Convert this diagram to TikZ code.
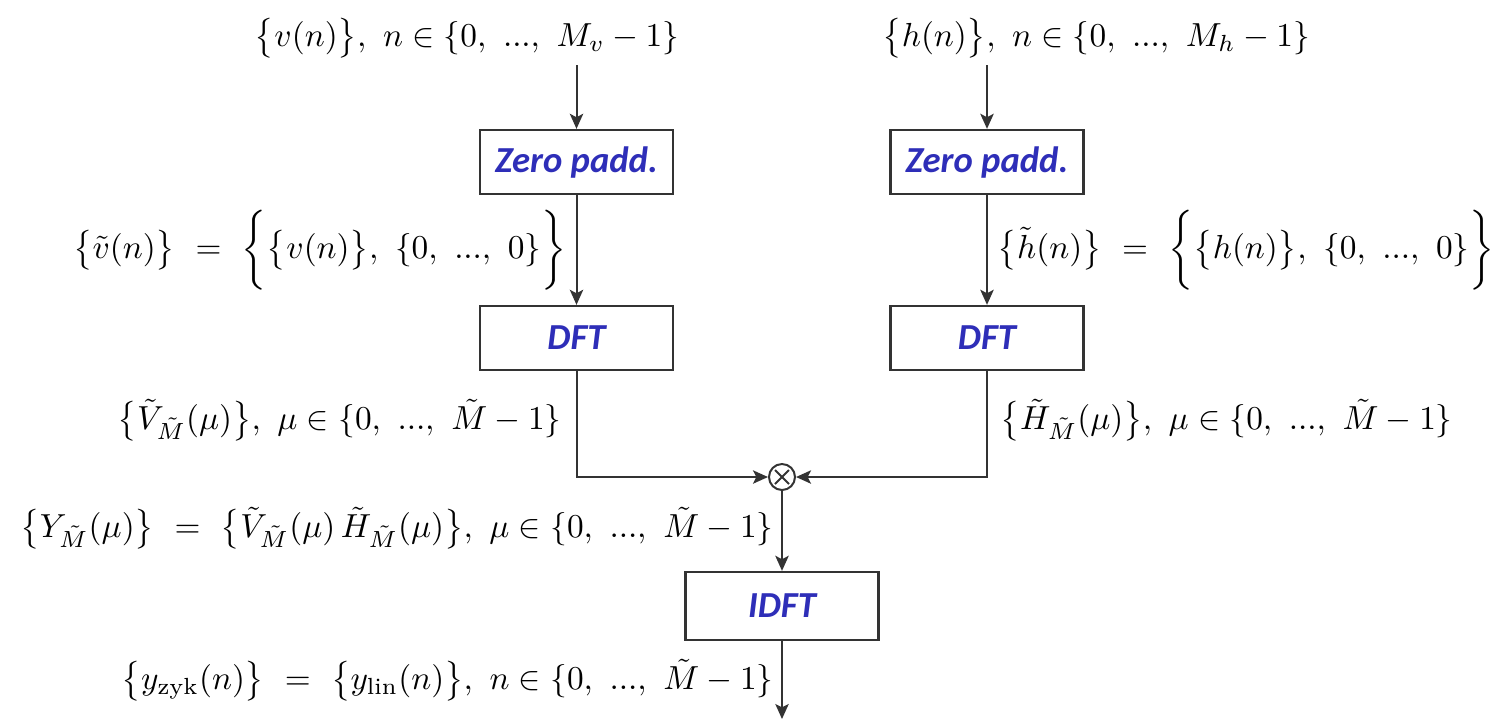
\documentclass[tikz,border=0pt]{standalone}
\usepackage{fontspec}
\newfontfamily\boxfont{Carlito}
\usetikzlibrary{arrows.meta}
\definecolor{linec}{HTML}{333333}
\definecolor{txtblue}{HTML}{2E2EB8}
\begin{document}
\begin{tikzpicture}[x=0.3pt,y=-0.3pt,
 blk/.style={draw=linec, line width=0.7pt, minimum width=57.9pt, minimum height=19.2pt, inner sep=0pt, font=\boxfont\bfseries\itshape\fontsize{11}{13}\selectfont, text=txtblue},
 conn/.style={draw=linec, line width=0.6pt, -{Stealth[length=4.5pt,width=4pt,inset=1pt]}},
 lab/.style={inner sep=0pt, font=\fontsize{10}{12}\selectfont}
]
\useasboundingbox (0,0) rectangle (1494,720);
% blocks
\node[blk] (zp1) at (576.5,162) {Zero padd.};
\node[blk] (zp2) at (987,162) {Zero padd.};
\node[blk] (dft1) at (576.5,338) {DFT};
\node[blk] (dft2) at (987,338) {DFT};
\node[blk, minimum height=20.4pt] (idft) at (782,606) {IDFT};
\node[circle, draw=linec, line width=0.6pt, minimum size=7.8pt, inner sep=0pt] (mul) at (782,477) {};
\draw[linec, line width=0.6pt] (mul.center) ++(-7,-7) -- ++(14,14);
\draw[linec, line width=0.6pt] (mul.center) ++(-7,7) -- ++(14,-14);
% labels
\node[lab] (vin) at (467,38) {$\big\{v(n)\big\},\ n\in\{0,\ ...,\ M_v-1\}$};
\node[lab] (hin) at (1096,38) {$\big\{h(n)\big\},\ n\in\{0,\ ...,\ M_h-1\}$};
\node[lab, anchor=east] (vt) at (567,250) {$\big\{\tilde v(n)\big\}\ =\ \bigg\{\big\{v(n)\big\},\ \{0,\ ...,\ 0\}\bigg\}$};
\node[lab, anchor=west] (ht) at (997,250) {$\big\{\tilde h(n)\big\}\ =\ \bigg\{\big\{h(n)\big\},\ \{0,\ ...,\ 0\}\bigg\}$};
\node[lab, anchor=east] (vf) at (562,420) {$\big\{\tilde V_{\tilde M}(\mu)\big\},\ \mu\in\{0,\ ...,\ \tilde M-1\}$};
\node[lab, anchor=west] (hf) at (1000,420) {$\big\{\tilde H_{\tilde M}(\mu)\big\},\ \mu\in\{0,\ ...,\ \tilde M-1\}$};
\node[lab, anchor=east] (yf) at (774,528) {$\big\{Y_{\tilde M}(\mu)\big\}\ =\ \big\{\tilde V_{\tilde M}(\mu)\,\tilde H_{\tilde M}(\mu)\big\},\ \mu\in\{0,\ ...,\ \tilde M-1\}$};
\node[lab, anchor=east] (yt) at (774,680) {$\big\{y_{\mathrm{zyk}}(n)\big\}\ =\ \big\{y_{\mathrm{lin}}(n)\big\},\ n\in\{0,\ ...,\ \tilde M-1\}$};
% connectors
\coordinate (vtop) at (576.5,65);
\coordinate (htop) at (987,65);
\coordinate (yout) at (782,719);
\draw[conn] (vtop) -- (zp1);
\draw[conn] (htop) -- (zp2);
\draw[conn] (zp1) -- (dft1);
\draw[conn] (zp2) -- (dft2);
\draw[conn] (dft1.south) |- (mul.west);
\draw[conn] (dft2.south) |- (mul.east);
\draw[conn] (mul) -- (idft);
\draw[conn] (idft) -- (yout);
\end{tikzpicture}
\end{document}
